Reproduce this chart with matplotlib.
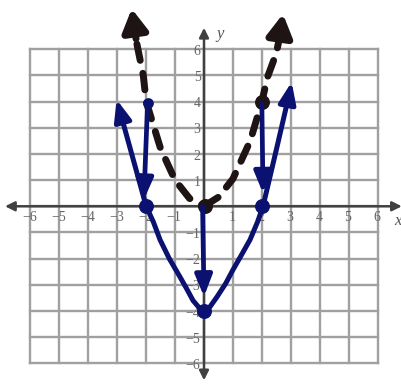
import matplotlib
matplotlib.use("Agg")
import matplotlib.pyplot as plt

# ---- data ----
ticks = [-6, -5, -4, -3, -2, -1, 1, 2, 3, 4, 5, 6]
grid_vals = list(range(-6, 7))

# dashed curve (y = x^2, hand drawn)
dash_left_x = [-2.32, -2.1, -2.0, -1.75, -1.5, -1.0, -0.5, 0.0]
dash_left_y = [6.2, 5.0, 4.0, 3.1, 2.2, 1.0, 0.3, 0.0]
dash_right_x = [0.0, 0.5, 1.0, 1.6, 2.0, 2.2, 2.5, 2.62]
dash_right_y = [0.0, 0.35, 1.05, 2.5, 4.0, 4.95, 5.85, 6.5]
dash_arrow_left = [(-2.35, 6.4), (-2.5, 7.55)]
dash_arrow_right = [(2.62, 6.5), (2.73, 7.35)]

# solid curve (y = x^2 - 4, hand drawn)
solid_x = [-2.9, -2.0, -1.75, -1.52, -1.2, -0.83, -0.6, -0.38, -0.15, 0.0,
           0.2, 0.45, 0.75, 1.0, 1.3, 1.59, 1.85, 2.04, 2.53, 2.95]
solid_y = [3.6, 0.0, -0.6, -1.28, -2.0, -2.7, -3.15, -3.6, -3.9, -4.04,
           -3.85, -3.46, -2.95, -2.43, -1.85, -1.28, -0.6, 0.0, 2.3, 4.3]
solid_arrow_left = [(-2.8, 3.2), (-3.02, 4.08)]
solid_arrow_right = [(2.9, 4.0), (3.03, 4.75)]

# translation arrows (start -> end)
shift_arrows = [((-1.95, 3.95), (-2.08, 0.25)),
                ((-0.05, 0.0), (0.0, -3.45)),
                ((2.0, 3.94), (2.04, 0.5))]

# dots
navy_dots_x = [-2.0, 0.0, 2.0]
navy_dots_y = [0.0, -4.0, 0.0]
small_navy_x = [-1.95]
small_navy_y = [3.95]
black_dots_x = [0.05, 2.0]
black_dots_y = [0.0, 4.0]

NAVY = '#0b1170'
BLACK = '#1e1414'

fig = plt.figure(figsize=(4.02, 3.86), dpi=100)
ax = fig.add_axes([0, 0, 1, 1])
ax.set_xlim(-7.054, 6.846)
ax.set_ylim(-6.867, 7.883)
ax.axis('off')

# grid
for g in grid_vals:
    ax.plot([g, g], [-6, 6], color='#a0a0a0', lw=1.7, zorder=1)
    ax.plot([-6, 6], [g, g], color='#a0a0a0', lw=1.7, zorder=1)

# axes with arrows
ax.annotate('', xy=(6.84, 0), xytext=(-6.88, 0),
            arrowprops=dict(arrowstyle='<|-|>', color='#404040', lw=1.8,
                            mutation_scale=14, shrinkA=0, shrinkB=0), zorder=2)
ax.annotate('', xy=(0, 6.82), xytext=(0, -6.65),
            arrowprops=dict(arrowstyle='<|-|>', color='#404040', lw=1.8,
                            mutation_scale=14, shrinkA=0, shrinkB=0), zorder=2)

# tick labels
for t in ticks:
    lab = str(t).replace('-', '\u2212')
    ax.text(t - 0.03, -0.42, lab, ha='center', va='center', fontsize=10,
            family='Liberation Serif', color='#666666', zorder=3)
    ax.text(-0.12, t - 0.08, lab, ha='right', va='center', fontsize=10,
            family='Liberation Serif', color='#666666', zorder=3)
ax.text(6.7, -0.58, 'x', fontsize=12, style='italic', family='Liberation Serif',
        color='#555555', ha='center', va='center')
ax.text(0.57, 6.58, 'y', fontsize=12, style='italic', family='Liberation Serif',
        color='#555555', ha='center', va='center')

# dashed curve
for xs, ys in [(dash_left_x, dash_left_y), (dash_right_x, dash_right_y)]:
    ax.plot(xs, ys, color=BLACK, lw=5, ls=(0, (2.4, 1.9)),
            solid_capstyle='round', dash_capstyle='round', zorder=5)
for (s, e) in [dash_arrow_left, dash_arrow_right]:
    ax.annotate('', xy=e, xytext=s,
                arrowprops=dict(arrowstyle='-|>,head_length=0.7,head_width=0.4',
                                color=BLACK, lw=5, mutation_scale=19,
                                shrinkA=0, shrinkB=0), zorder=5)
ax.scatter(black_dots_x, black_dots_y, s=95, color=BLACK, zorder=6)

# solid curve
ax.plot(solid_x, solid_y, color=NAVY, lw=3.6, solid_capstyle='round',
        solid_joinstyle='round', zorder=7)
for (s, e) in [solid_arrow_left, solid_arrow_right]:
    ax.annotate('', xy=e, xytext=s,
                arrowprops=dict(arrowstyle='-|>,head_length=0.75,head_width=0.3',
                                color=NAVY, lw=3.4, mutation_scale=17,
                                shrinkA=0, shrinkB=0), zorder=7)
for (s, e) in shift_arrows:
    ax.annotate('', xy=e, xytext=s,
                arrowprops=dict(arrowstyle='-|>,head_length=0.75,head_width=0.3',
                                color=NAVY, lw=3.4, mutation_scale=17,
                                shrinkA=0, shrinkB=0), zorder=7)
ax.scatter(navy_dots_x, navy_dots_y, s=95, color=NAVY, zorder=8)
ax.scatter(small_navy_x, small_navy_y, s=45, color=NAVY, zorder=8)

fig.savefig('out.png', dpi=100, facecolor='white')
